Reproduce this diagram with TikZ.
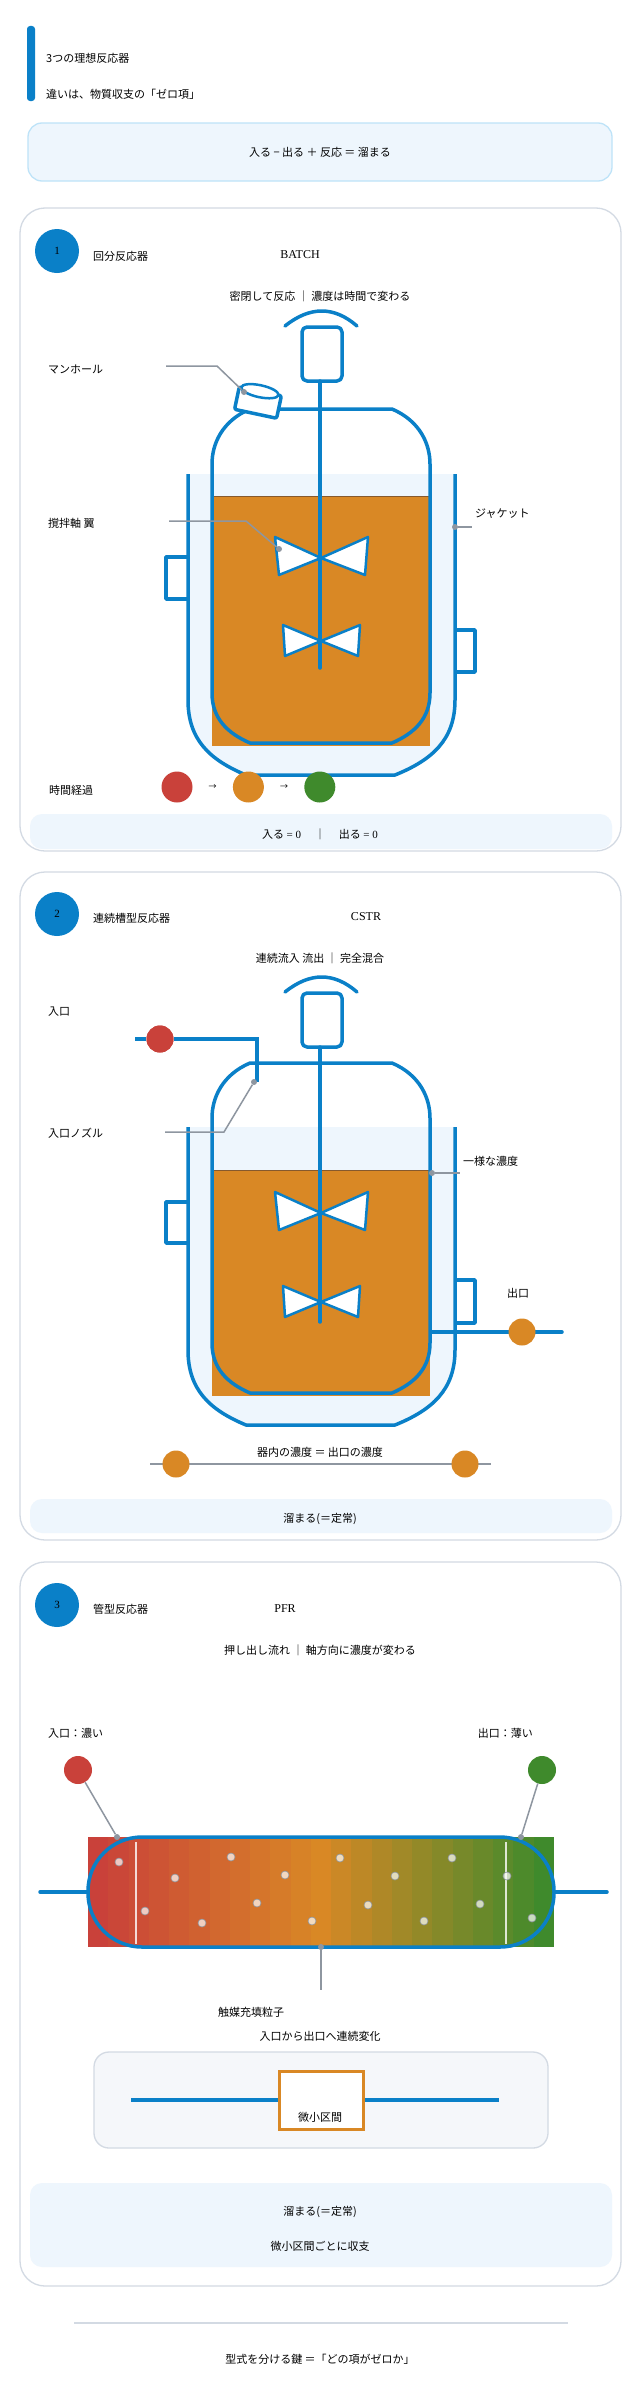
\documentclass[tikz,border=0pt]{standalone}
\usepackage{fontspec}
\setmainfont{Noto Sans CJK JP}
\newfontfamily\numfont{Liberation Serif}
\usepackage{xcolor}
\usetikzlibrary{positioning}

\definecolor{pipeblue}{HTML}{0A80C8}
\definecolor{liquid}{HTML}{D98825}
\definecolor{feedred}{HTML}{C9413A}
\definecolor{prodgreen}{HTML}{3F8A2C}
\definecolor{jacketfill}{HTML}{EEF6FD}
\definecolor{panelline}{HTML}{D3DAE3}
\definecolor{leadgrey}{HTML}{8E96A0}
\definecolor{boxfill}{HTML}{F5F7FA}
\definecolor{balanceline}{HTML}{BEE3F8}

\tikzset{
  lbl/.style={font=\fontsize{11}{13}\selectfont, inner sep=1pt},
  panel/.style={draw=panelline, line width=1.3pt, rounded corners=25pt, fill=white},
  summary/.style={fill=jacketfill, rounded corners=12pt},
  wall/.style={draw=pipeblue, line width=3.5pt, line join=round},
  pipe/.style={draw=pipeblue, line width=3.5pt, line cap=round},
  leader/.style={draw=leadgrey, line width=1.5pt},
  tip/.style={circle, fill=leadgrey, inner sep=0pt, minimum size=6pt},
  badge/.style={circle, fill=pipeblue, minimum size=44pt, inner sep=0pt, font=\numfont\fontsize{11}{12}\selectfont},
  blob/.style={circle, inner sep=0pt, minimum size=#1},
  blob/.default=28pt,
  blade/.style={fill=white, draw=pipeblue, line width=2.5pt, line join=round},
  grain/.style={circle, inner sep=0pt, minimum size=8pt, fill=white, fill opacity=0.7, draw=leadgrey, line width=0.6pt}
}

% inner vessel outline: top y, bottom y
\newcommand{\vesselshape}[2]{%
  (250,#1) -- (392,#1) .. controls (420,{#1+12}) and (430,{#1+35}) .. (430,{#1+55})
  -- (430,{#2-50}) .. controls (430,{#2-25}) and (415,{#2-10}) .. (392,#2)
  -- (250,#2) .. controls (227,{#2-10}) and (212,{#2-25}) .. (212,{#2-50})
  -- (212,{#1+55}) .. controls (212,{#1+35}) and (222,{#1+12}) .. (250,#1) -- cycle}
% jacket outline: top y, bottom y
\newcommand{\jacketshape}[2]{%
  (188,#1) -- (188,{#2-75}) .. controls (188,{#2-35}) and (210,{#2-15}) .. (246,#2)
  -- (395,#2) .. controls (432,{#2-15}) and (455,{#2-35}) .. (455,{#2-75}) -- (455,#1)}
% two impellers on shaft: y upper, y lower
\newcommand{\impellers}[2]{%
  \draw[blade] (321,#1) -- (275,{#1-21}) -- (279,{#1+17}) -- cycle;
  \draw[blade] (321,#1) -- (368,{#1-21}) -- (365,{#1+17}) -- cycle;
  \draw[blade] (321,#2) -- (283,{#2-16}) -- (285,{#2+15}) -- cycle;
  \draw[blade] (321,#2) -- (360,{#2-16}) -- (358,{#2+15}) -- cycle;}
% motor and cap: arc end y
\newcommand{\drive}[1]{%
  \draw[pipe] (285,#1) .. controls (310,{#1-20}) and (334,{#1-20}) .. (357,#1);
  \draw[wall, rounded corners=5pt] (302,{#1+1}) rectangle (342,{#1+55});}

\begin{document}
\begin{tikzpicture}[x=1pt,y=-1pt]
  \useasboundingbox (0,0) rectangle (640,2390);
  \fill[white] (0,0) rectangle (640,2390);

  % header
  \fill[pipeblue, rounded corners=3pt] (27,26) rectangle (35,101);
  \node[lbl, anchor=west] (title) at (45,58) {3つの理想反応器};
  \node[lbl, anchor=west] (subtitle) at (45,94) {違いは、物質収支の「ゼロ項」};
  \node[draw=balanceline, line width=1.3pt, fill=jacketfill, rounded corners=14pt,
        minimum width=584pt, minimum height=58pt, lbl] (balance) at (320,152) {入る − 出る ＋ 反応 ＝ 溜まる};

  % ---------------- 1 batch ----------------
  \draw[panel] (20,208) rectangle (621,851);
  \node[badge] (b1) at (57,251) {1};
  \node[lbl, anchor=west] (n1) at (92,256) {回分反応器};
  \node[lbl, font=\numfont\fontsize{12}{13}\selectfont] (e1) at (300,255) {BATCH};
  \node[lbl] (s1) at (320,296) {密閉して反応 ｜ 濃度は時間で変わる};

  \fill[jacketfill] \jacketshape{474}{775} -- cycle;
  \draw[wall] \jacketshape{474}{775};
  \draw[wall] (188,557) -- (166,557) -- (166,599) -- (188,599);
  \draw[wall] (455,630) -- (475,630) -- (475,672) -- (455,672);
  \fill[liquid] (212,496) rectangle (430,746);
  \draw[brown!70!black, line width=0.6pt] (212,496) -- (430,496);
  \draw[wall] \vesselshape{409}{743};
  % manhole
  \begin{scope}[rotate around={-12:(258,400)}]
    \draw[wall, fill=white, rounded corners=2pt] (237,391) rectangle (280,414);
    \draw[pipeblue, line width=2.5pt, fill=white] (258,391) ellipse (19pt and 6pt);
  \end{scope}
  \drive{326}
  \draw[pipe] (320,381) -- (320,668);
  \impellers{558}{641}

  \node[lbl, anchor=west] (manhole) at (47,369) {マンホール};
  \node[tip] (manholetip) at (244,392) {};
  \coordinate (manholebend) at (217,366);
  \draw[leader] (166,366) -- (manholebend) -- (manholetip);
  \node[lbl, anchor=west] (stirrer) at (47,523) {撹拌軸 翼};
  \node[tip] (stirrertip) at (279,549) {};
  \draw[leader] (169,521) -- (246,521) -- (stirrertip);
  \node[lbl, anchor=west] (jacket) at (474,514) {ジャケット};
  \node[tip] (jackettip) at (455,527) {};
  \draw[leader] (jackettip) -- (472,527);

  \node[lbl, anchor=west] (elapsed) at (48,790) {時間経過};
  \node[blob=31pt, fill=feedred] (t0) at (177,787) {};
  \node[blob=31pt, fill=liquid, right=40pt of t0] (t1) {};
  \node[blob=31pt, fill=prodgreen, right=40pt of t1] (t2) {};
  \path (t0) -- node[font=\fontsize{8}{8}\selectfont] {→} (t1);
  \path (t1) -- node[font=\fontsize{8}{8}\selectfont] {→} (t2);
  \fill[summary] (30,814) rectangle (612,849);
  \node[lbl] (sum1) at (320,834) {入る {\numfont = 0}　 ｜ 　出る {\numfont = 0}};

  % ---------------- 2 CSTR ----------------
  \draw[panel] (20,872) rectangle (621,1540);
  \node[badge] (b2) at (57,914) {2};
  \node[lbl, anchor=west] (n2) at (92,918) {連続槽型反応器};
  \node[lbl, font=\numfont\fontsize{12}{13}\selectfont] (e2) at (366,917) {CSTR};
  \node[lbl] (s2) at (320,958) {連続流入 流出 ｜ 完全混合};

  \fill[jacketfill] \jacketshape{1127}{1425} -- cycle;
  \draw[wall] \jacketshape{1127}{1425};
  \draw[wall] (188,1202) -- (166,1202) -- (166,1243) -- (188,1243);
  \draw[wall] (455,1280) -- (475,1280) -- (475,1323) -- (455,1323);
  \fill[liquid] (212,1170) rectangle (430,1396);
  \draw[brown!70!black, line width=0.6pt] (212,1170) -- (430,1170);
  \draw[wall] \vesselshape{1063}{1393};
  \drive{992}
  \draw[pipe] (320,1047) -- (320,1322);
  \impellers{1213}{1302}

  \node[lbl, anchor=west] (inlet) at (47,1012) {入口};
  \node[blob=27pt, fill=feedred] (feed) at (160,1039) {};
  \coordinate (nozzle) at (257,1082);
  \draw[pipe, line cap=butt] (135,1039) -- (feed) -- (257,1039) -- (nozzle);
  \node[blob=27pt, fill=feedred] at (feed) {};
  \node[lbl, anchor=west] (inletnozzle) at (47,1133) {入口ノズル};
  \node[tip] (nozzletip) at (254,1082) {};
  \draw[leader] (165,1132) -- (224,1132) -- (nozzletip);
  \node[lbl, anchor=west] (uniform) at (462,1161) {一様な濃度};
  \node[tip] (uniformtip) at (432,1173) {};
  \draw[leader] (uniformtip) -- (460,1173);

  \node[lbl, anchor=west] (outlet) at (506,1293) {出口};
  \coordinate (outletstart) at (432,1332);
  \coordinate (outletend) at (562,1332);
  \draw[pipe] (outletstart) -- (outletend);
  \node[blob=27pt, fill=liquid] (product) at (522,1332) {};

  \node[lbl] (equal) at (320,1452) {器内の濃度 ＝ 出口の濃度};
  \coordinate (eqleft) at (150,1464);
  \coordinate (eqright) at (491,1464);
  \draw[leader] (eqleft) -- (eqright);
  \node[blob=27pt, fill=liquid] (inside) at (176,1464) {};
  \node[blob=27pt, fill=liquid] (outside) at (465,1464) {};
  \fill[summary] (30,1499) rectangle (612,1533);
  \node[lbl] (sum2) at (320,1519) {溜まる(＝定常)};

  % ---------------- 3 PFR ----------------
  \draw[panel] (20,1562) rectangle (621,2286);
  \node[badge] (b3) at (57,1605) {3};
  \node[lbl, anchor=west] (n3) at (92,1609) {管型反応器};
  \node[lbl, font=\numfont\fontsize{12}{13}\selectfont] (e3) at (285,1609) {PFR};
  \node[lbl] (s3) at (320,1650) {押し出し流れ ｜ 軸方向に濃度が変わる};

  \foreach \i in {0,...,11} {
    \pgfmathsetmacro{\pct}{\i*100/11}
    \fill[liquid!\pct!feedred] ({88+\i*20.26},1837) rectangle ({88+(\i+1)*20.26+0.5},1947);
  }
  \foreach \i in {1,...,11} {
    \pgfmathsetmacro{\pct}{\i*100/11}
    \fill[prodgreen!\pct!liquid] ({88+(\i+11)*20.26},1837) rectangle ({88+(\i+12)*20.26+0.5},1947);
  }
  \draw[white, opacity=0.8, line width=2.5pt] (136,1842) -- (136,1944);
  \draw[white, opacity=0.8, line width=2.5pt] (506,1842) -- (506,1944);
  \foreach \px/\py in {119/1862,175/1878,145/1911,202/1923,231/1857,257/1903,285/1875,312/1921,
                       340/1858,368/1905,395/1876,424/1921,452/1858,480/1904,507/1876,532/1918}
    \node[grain] at (\px,\py) {};
  \draw[wall, rounded corners=54pt] (88,1837) rectangle (554,1947);
  \coordinate (pipein) at (40,1892);
  \coordinate (pipeout) at (607,1892);
  \draw[pipe] (pipein) -- (88,1892);
  \draw[pipe] (554,1892) -- (pipeout);

  \node[lbl, anchor=west] (rich) at (47,1733) {入口：濃い};
  \node[lbl, anchor=east] (lean) at (534,1733) {出口：薄い};
  \node[blob=28pt, fill=feedred] (pfrin) at (78,1770) {};
  \node[blob=28pt, fill=prodgreen] (pfrout) at (542,1770) {};
  \node[tip] (pfrintip) at (117,1837) {};
  \node[tip] (pfrouttip) at (521,1837) {};
  \draw[leader] (pfrin) -- (pfrintip);
  \draw[leader] (pfrout) -- (pfrouttip);
  \node[tip] (packtip) at (321,1947) {};
  \coordinate (packend) at (321,1990);
  \draw[leader] (packtip) -- (packend);
  \node[lbl, anchor=west] (packing) at (217,2012) {触媒充填粒子};
  \node[lbl] (change) at (320,2036) {入口から出口へ連続変化};

  \draw[draw=panelline, line width=1.3pt, fill=boxfill, rounded corners=15pt] (94,2052) rectangle (548,2148);
  \coordinate (segin) at (131,2100);
  \coordinate (segout) at (499,2100);
  \draw[pipeblue, line width=4pt] (segin) -- (segout);
  \draw[draw=liquid, line width=3pt, fill=white] (279,2071) rectangle (363,2129);
  \node[lbl] (slice) at (320,2117) {微小区間};

  \fill[summary] (30,2183) rectangle (612,2267);
  \node[lbl] (sum3) at (320,2212) {溜まる(＝定常)};
  \node[lbl] (sum3b) at (320,2246) {微小区間ごとに収支};

  % footer
  \draw[panelline, line width=1.3pt] (74,2323) -- (568,2323);
  \node[lbl] (key) at (320,2359) {型式を分ける鍵 ＝「どの項がゼロか」};
\end{tikzpicture}
\end{document}
